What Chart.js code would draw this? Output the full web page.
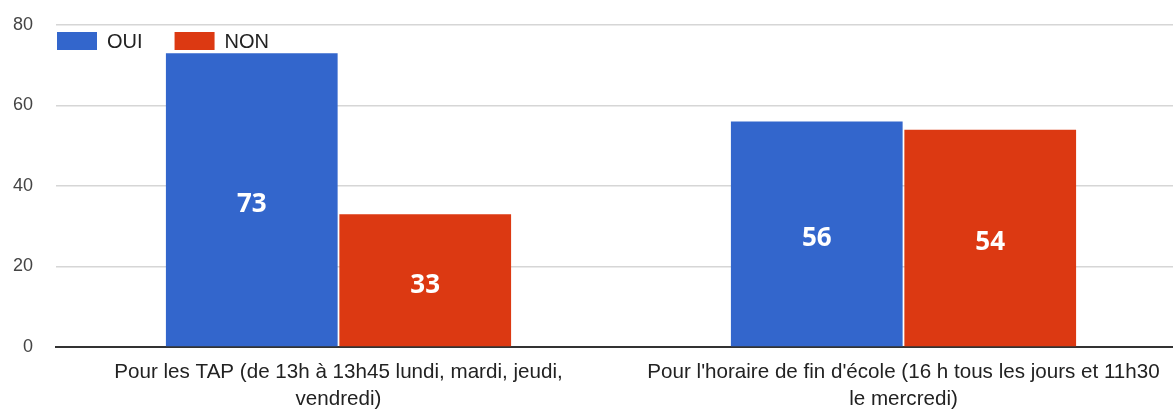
<!DOCTYPE html>
<html>
<head>
<meta charset="utf-8">
<script src="https://cdn.jsdelivr.net/npm/chart.js@4"></script>
<style>
  html, body { margin: 0; padding: 0; background: #fff; overflow: hidden; }
  #wrap { width: 1186px; height: 410px; }
</style>
</head>
<body>
<div id="wrap"><canvas id="chart"></canvas></div>
<script>
const categories = [
    ["Pour les TAP (de 13h à 13h45 lundi, mardi, jeudi,", "vendredi)"],
    ["Pour l'horaire de fin d'école (16 h tous les jours et 11h30", "le mercredi)"]
];
const ouiValues = [73, 56];
const nonValues = [33, 54];
const yTicks = [0, 20, 40, 60, 80];

// legend drawn inside the plot area, top left
const insideLegend = {
    id: 'insideLegend',
    afterDraw(chart) {
        const ctx = chart.ctx;
        let x = chart.chartArea.left + 1;
        const y = chart.chartArea.top + 7;
        ctx.save();
        ctx.font = '20px "Liberation Sans", Arial, sans-serif';
        ctx.textBaseline = 'middle';
        chart.data.datasets.forEach(ds => {
            ctx.fillStyle = ds.backgroundColor;
            ctx.fillRect(x, y, 40, 18);
            ctx.fillStyle = '#222';
            ctx.fillText(ds.label, x + 50, y + 10);
            x += 50 + ctx.measureText(ds.label).width + 32;
        });
        ctx.restore();
    }
};

// value labels in the bars
const barValues = {
    id: 'barValues',
    afterDatasetsDraw(chart) {
        const ctx = chart.ctx;
        ctx.save();
        ctx.font = 'bold 26px "Open Sans", sans-serif';
        ctx.fillStyle = '#fff';
        ctx.textAlign = 'center';
        ctx.textBaseline = 'middle';
        chart.data.datasets.forEach((ds, i) => {
            chart.getDatasetMeta(i).data.forEach((bar, j) => {
                ctx.fillText(ds.data[j], bar.x, (bar.y + bar.base) / 2 + 5);
            });
        });
        ctx.restore();
    }
};

new Chart(document.getElementById('chart'), {
    type: 'bar',
    data: {
        labels: categories,
        datasets: [
            { label: 'OUI', data: ouiValues, backgroundColor: '#3366cc' },
            { label: 'NON', data: nonValues, backgroundColor: '#dc3912' }
        ]
    },
    options: {
        responsive: true,
        maintainAspectRatio: false,
        animation: false,
        layout: { padding: { top: 25, left: 0, right: 0, bottom: 0 } },
        categoryPercentage: 0.614,
        barPercentage: 0.99,
        plugins: {
            legend: { display: false },
            tooltip: { enabled: false }
        },
        scales: {
            x: {
                grid: { display: false, drawTicks: false },
                border: { color: '#333', width: 2 },
                ticks: {
                    color: '#222',
                    maxRotation: 0,
                    autoSkip: false,
                    padding: 12,
                    font: { family: '"Liberation Sans", Arial, sans-serif', size: 20.6, lineHeight: 1.32 }
                },
                afterFit(scale) {
                    scale.height = 63;
                    scale.paddingLeft = 0;
                    scale.paddingRight = 0;
                }
            },
            y: {
                min: 0,
                max: 80,
                afterBuildTicks(scale) { scale.ticks = yTicks.map(v => ({ value: v })); },
                grid: { color: '#d6d6d6', lineWidth: 1.5, drawTicks: false },
                border: { display: false },
                ticks: {
                    color: '#444',
                    padding: 23,
                    font: { family: '"Liberation Sans", Arial, sans-serif', size: 18 }
                },
                afterFit(scale) {
                    scale.width = 56;
                    scale.paddingTop = 0;
                    scale.paddingBottom = 0;
                }
            }
        }
    },
    plugins: [insideLegend, barValues]
});
</script>
</body>
</html>
